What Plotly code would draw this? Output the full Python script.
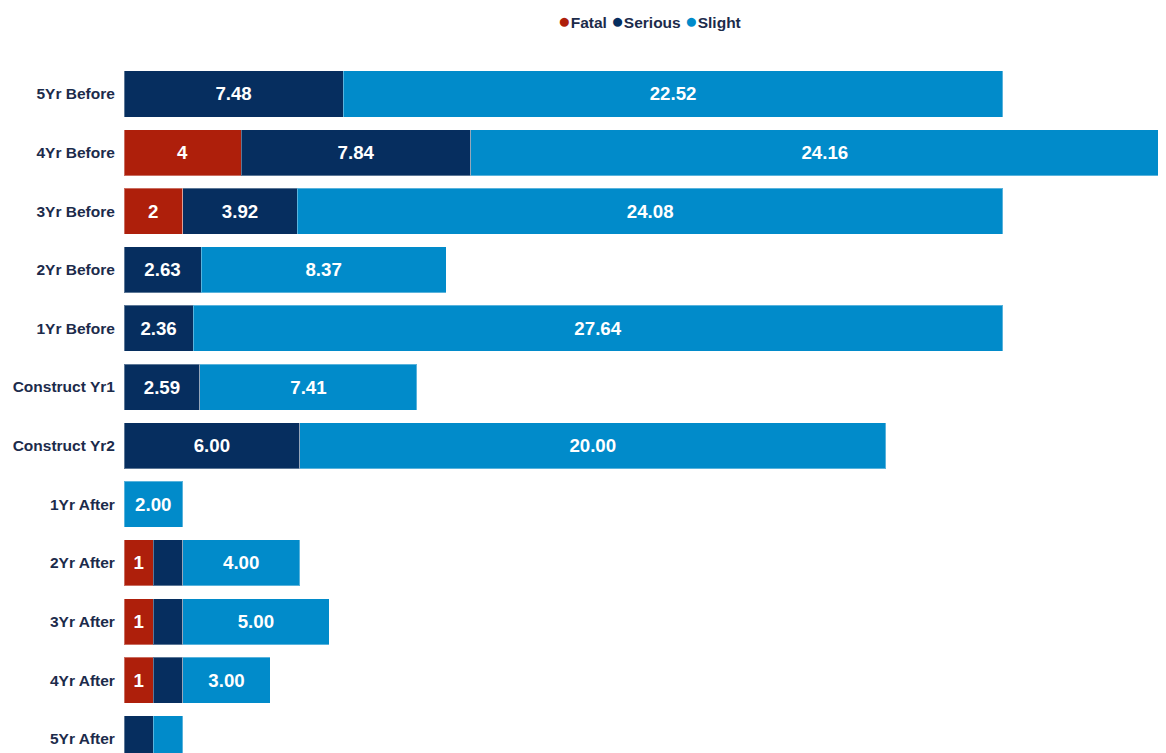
import plotly.graph_objects as go

categories = ["5Yr Before", "4Yr Before", "3Yr Before", "2Yr Before", "1Yr Before",
              "Construct Yr1", "Construct Yr2", "1Yr After", "2Yr After", "3Yr After",
              "4Yr After", "5Yr After"]
fatal = [None, 4, 2, None, None, None, None, None, 1, 1, 1, None]
serious = [7.48, 7.84, 3.92, 2.63, 2.36, 2.59, 6.00, None, 1, 1, 1, 1]
slight = [22.52, 24.16, 24.08, 8.37, 27.64, 7.41, 20.00, 2.00, 4, 5, 3, 1]

series_names = ["Fatal", "Serious", "Slight"]
colors = ["#AE1F0B", "#062E5F", "#018BCA"]
formats = ["%{x:.0f}", "%{x:.2f}", "%{x:.2f}"]
FONT = "Liberation Sans, Arial, sans-serif"
NAVY = "#1c2b4b"

fig = go.Figure()
for name, vals, col, fmt in zip(series_names, [fatal, serious, slight], colors, formats):
    fig.add_trace(go.Bar(
        name=name, y=categories, x=vals, orientation="h",
        marker=dict(color=col, line=dict(color="rgba(255,255,255,0.35)", width=1)),
        texttemplate=fmt, textposition="inside", insidetextanchor="middle",
        textangle=0,
        textfont=dict(family=FONT, size=18.7, color="white", weight="bold"),
        showlegend=False, hoverinfo="x+name",
    ))

legend_text = " ".join(
    f"<span style='color:{c};font-size:21px'>●</span>{n}" for n, c in zip(series_names, colors)
)
fig.add_annotation(
    text=legend_text, xref="paper", yref="paper", x=0.5, y=1.0, yanchor="bottom",
    yshift=26, showarrow=False,
    font=dict(family=FONT, size=15.5, color=NAVY, weight="bold"),
)

fig.update_layout(
    width=1166, height=753,
    margin=dict(l=116, r=0, t=52, b=0),
    barmode="stack", bargap=0.215,
    plot_bgcolor="white", paper_bgcolor="white",
    uniformtext=dict(minsize=18, mode="hide"),
    xaxis=dict(visible=False, range=[0, 35.84]),
    yaxis=dict(
        categoryorder="array", categoryarray=categories,
        range=[11.38, -0.58], showgrid=False, zeroline=False, showline=False,
        ticks="outside", ticklen=5, tickcolor="rgba(0,0,0,0)",
        tickfont=dict(family=FONT, size=15.5, color=NAVY, weight="bold"),
    ),
    font=dict(family=FONT),
)

fig.write_html("out.html")
